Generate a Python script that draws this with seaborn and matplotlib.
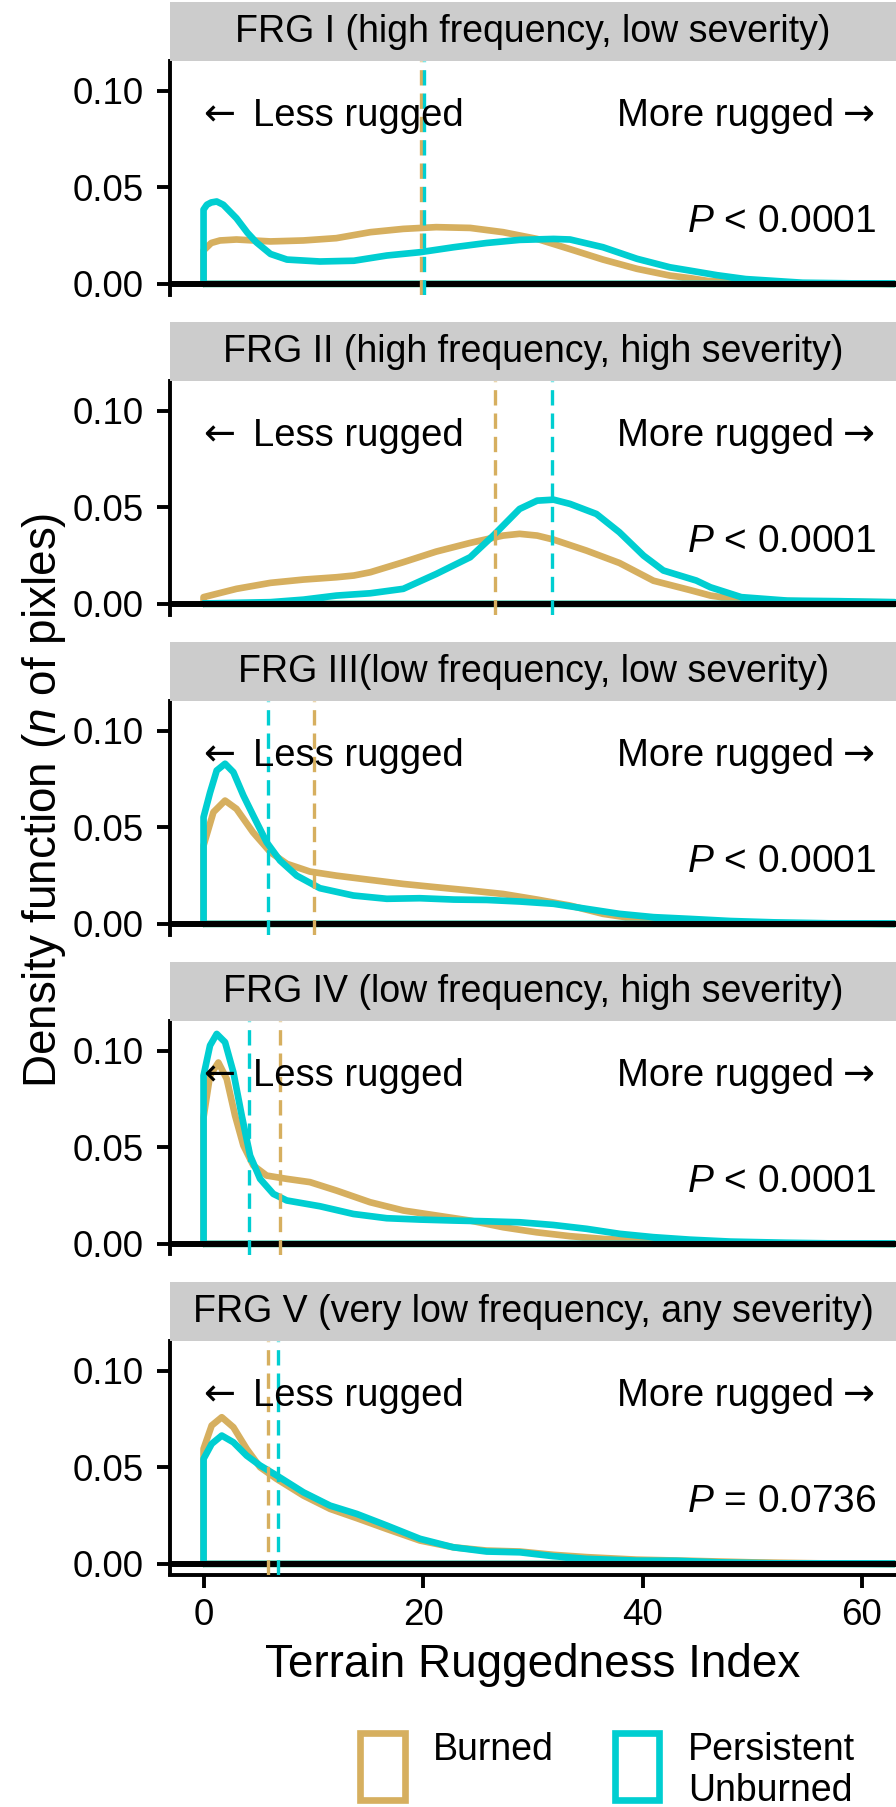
import matplotlib
matplotlib.use("Agg")
import matplotlib.pyplot as plt
from matplotlib.patches import Rectangle
from matplotlib.ticker import FormatStrFormatter
import pandas as pd
import seaborn as sns

# ---- data ----
panel_titles = [
    "FRG I (high frequency, low severity)",
    "FRG II (high frequency, high severity)",
    "FRG III(low frequency, low severity)",
    "FRG IV (low frequency, high severity)",
    "FRG V (very low frequency, any severity)",
]
p_labels = [r"$P$ < 0.0001", r"$P$ < 0.0001", r"$P$ < 0.0001", r"$P$ < 0.0001", r"$P$ = 0.0736"]

burned_median = [19.86, 26.58, 10.04, 7.0, 5.91]
unburned_median = [20.1, 31.77, 5.9, 4.15, 6.8]

burned_x = [
    [0, 0.7, 1.5, 3.0, 6.1, 9.1, 12.1, 15.2, 18.2, 21.2, 24.3, 27.3, 30.4, 33.4, 36.4, 39.5, 42.5, 44.3, 46, 50, 55, 63],
    [0, 3.0, 6.1, 9.1, 12.1, 13.7, 15.2, 18.2, 21.2, 24.3, 27.3, 28.8, 30.4, 31.9, 34.9, 37.9, 41.0, 44.3, 46.2, 49, 55.5, 63],
    [0, 0.9, 1.96, 3.0, 4.5, 6.1, 7.6, 9.7, 12.1, 15.2, 18.2, 21.2, 24.3, 27.3, 30.4, 33.4, 36.4, 39.5, 42.5, 46, 50, 63],
    [0, 0.59, 1.35, 2.11, 2.87, 3.63, 4.54, 5.75, 7.58, 9.7, 12.13, 15.17, 18.21, 21.24, 24.28, 27.32, 30.35, 33.39,
     36.42, 39.46, 42.5, 47, 53, 63],
    [0, 0.74, 1.66, 2.72, 3.93, 5.15, 6.67, 9.10, 11.53, 13.96, 16.69, 19.72, 22.76, 25.80, 28.83, 31.87, 34.91,
     39.46, 44.32, 50, 56, 63],
]
burned_y = [
    [0.0173, 0.0212, 0.0225, 0.023, 0.022, 0.0225, 0.0237, 0.0268, 0.0285, 0.0294, 0.029, 0.0268, 0.0233, 0.018,
     0.0126, 0.0078, 0.0043, 0.003, 0.0015, 0.0005, 0.0002, 0.0],
    [0.0035, 0.0078, 0.0109, 0.0126, 0.0138, 0.0147, 0.0164, 0.0216, 0.0271, 0.0316, 0.0354, 0.0363, 0.0354, 0.0333,
     0.0276, 0.0212, 0.012, 0.0072, 0.0043, 0.002, 0.0012, 0.0008],
    [0.0406, 0.0579, 0.0639, 0.0596, 0.0475, 0.0371, 0.0311, 0.0271, 0.025, 0.0228, 0.0207, 0.019, 0.0173, 0.0155,
     0.0126, 0.0095, 0.0052, 0.0026, 0.0016, 0.0008, 0.0003, 0.0],
    [0.0656, 0.0872, 0.094, 0.0855, 0.0665, 0.051, 0.0406, 0.0354, 0.0337, 0.032, 0.0276, 0.0216, 0.0173, 0.0147,
     0.0121, 0.0086, 0.006, 0.004, 0.0026, 0.0017, 0.0012, 0.0006, 0.0002, 0.0],
    [0.0596, 0.0717, 0.076, 0.0708, 0.0596, 0.0501, 0.044, 0.0354, 0.0285, 0.0237, 0.0181, 0.0121, 0.0086, 0.0069,
     0.0064, 0.0047, 0.0035, 0.0022, 0.0016, 0.0008, 0.0003, 0.0],
]
unburned_x = [
    [0, 0.3, 0.7, 1.2, 1.8, 3.0, 4.0, 4.8, 6.1, 7.6, 10.6, 13.7, 16.7, 19.7, 22.8, 25.8, 28.8, 31.9, 33.4, 36.4, 39.5,
     42.5, 44.3, 46.8, 49.4, 54.6, 63],
    [0, 6.1, 9.1, 12.1, 15.2, 18.2, 21.2, 24.3, 26.4, 28.8, 30.4, 31.9, 33.4, 35.8, 37.9, 40.1, 41.9, 44.9, 46.2, 49,
     53.2, 57.9, 63],
    [0, 0.59, 1.2, 1.96, 2.72, 3.63, 4.54, 5.75, 6.97, 8.49, 10.6, 13.65, 16.7, 19.7, 22.8, 25.8, 28.8, 31.9, 34.9,
     37.9, 41.0, 44.3, 48, 52, 57, 63],
    [0, 0.59, 1.2, 1.96, 2.72, 3.48, 4.24, 5.15, 6.36, 7.58, 10.61, 13.65, 16.69, 19.72, 22.76, 25.8, 28.83, 31.87,
     34.91, 37.94, 40.98, 44.32, 48, 53, 58, 63],
    [0, 0.74, 1.66, 2.72, 3.93, 5.15, 6.67, 9.10, 11.53, 13.96, 16.69, 19.72, 22.76, 25.80, 28.83, 31.87, 34.91,
     39.46, 43.1, 47, 52, 58, 63],
]
unburned_y = [
    [0.0385, 0.041, 0.0422, 0.0427, 0.041, 0.034, 0.0265, 0.0216, 0.0155, 0.0126, 0.0116, 0.012, 0.0147, 0.0164,
     0.019, 0.0212, 0.0228, 0.0233, 0.023, 0.019, 0.013, 0.0086, 0.0069, 0.0045, 0.0025, 0.0006, 0.0],
    [0.0002, 0.0009, 0.0022, 0.0043, 0.0055, 0.0078, 0.0155, 0.0242, 0.0354, 0.0492, 0.0535, 0.054, 0.0518, 0.0466,
     0.0371, 0.025, 0.0173, 0.0121, 0.0086, 0.0035, 0.0017, 0.0014, 0.0009],
    [0.0553, 0.068, 0.0795, 0.083, 0.0786, 0.0665, 0.056, 0.0423, 0.0328, 0.025, 0.0185, 0.0147, 0.013, 0.0133,
     0.0126, 0.0124, 0.0116, 0.0104, 0.0078, 0.0052, 0.0035, 0.0026, 0.0015, 0.0008, 0.0003, 0.0],
    [0.0872, 0.1028, 0.1088, 0.1045, 0.0889, 0.0665, 0.0458, 0.0337, 0.0259, 0.0225, 0.0195, 0.0155, 0.0133, 0.0126,
     0.0121, 0.0117, 0.0112, 0.0098, 0.0078, 0.0052, 0.0035, 0.0022, 0.0012, 0.0006, 0.0002, 0.0],
    [0.0544, 0.0622, 0.0665, 0.063, 0.0561, 0.051, 0.0458, 0.0371, 0.0302, 0.0259, 0.0199, 0.013, 0.0086, 0.0064,
     0.006, 0.004, 0.0026, 0.0017, 0.0016, 0.0008, 0.0003, 0.0001, 0.0],
]

x_ticks = [0, 20, 40, 60]
y_ticks = [0.00, 0.05, 0.10]

TAN = "#D6AF5F"
CYAN = "#00CED1"

# ---- style ----
sns.set_style("ticks")
plt.rcParams["font.family"] = ["Liberation Sans", "DejaVu Sans"]
plt.rcParams["mathtext.fontset"] = "custom"
plt.rcParams["mathtext.rm"] = "Liberation Sans"
plt.rcParams["mathtext.it"] = "Liberation Sans:italic"
for key in ["text.color", "axes.labelcolor", "xtick.color", "ytick.color", "axes.edgecolor"]:
    plt.rcParams[key] = "black"

W, H = 896, 1807


def fx(px):
    return px / W


def fy(py):
    return 1 - py / H


def density_outline(xv, yv):
    # closed outline like geom_density: up from the baseline, along the curve, back along y = 0
    xs = [xv[0]] + list(xv) + [xv[-1], xv[0]]
    ys = [0.0] + list(yv) + [0.0, 0.0]
    return pd.DataFrame({"x": xs, "y": ys})


fig = plt.figure(figsize=(W / 100, H / 100), dpi=100)
left = 170.3
step = 320
txt_size = 27.5

for i in range(5):
    top = 61 + step * i
    bot = 294.5 + step * i
    ax = fig.add_axes([fx(left), fy(bot), 1 - fx(left), (bot - top) / H])

    sns.lineplot(data=density_outline(burned_x[i], burned_y[i]), x="x", y="y", sort=False,
                 estimator=None, color=TAN, lw=4.8, ax=ax, zorder=2, solid_joinstyle="round")
    sns.lineplot(data=density_outline(unburned_x[i], unburned_y[i]), x="x", y="y", sort=False,
                 estimator=None, color=CYAN, lw=4.8, ax=ax, zorder=2.1, solid_joinstyle="round")
    ax.axhline(0, color="black", lw=4.3, zorder=3)
    ax.axvline(burned_median[i], color=TAN, lw=2.4, dashes=(4.6, 2.4), zorder=4)
    ax.axvline(unburned_median[i], color=CYAN, lw=2.4, dashes=(4.6, 2.4), zorder=4.1)

    # direction labels: arrows in DejaVu (long arrow glyphs), words in Liberation Sans
    ax.text(0, 0.0875, "\u2190", ha="left", va="center", fontsize=txt_size,
            family="DejaVu Sans", zorder=5)
    ax.text(4.54, 0.082, "Less rugged", ha="left", va="baseline", fontsize=txt_size, zorder=5)
    ax.text(57.5, 0.082, "More rugged", ha="right", va="baseline", fontsize=txt_size, zorder=5)
    ax.text(58.3, 0.0875, "\u2192", ha="left", va="center", fontsize=txt_size,
            family="DejaVu Sans", zorder=5)
    ax.text(61.3, 0.027, p_labels[i], ha="right", va="baseline", fontsize=28, zorder=5)

    ax.set_xlim(-3.03, 63.1)
    ax.set_ylim(-0.0055, 0.1155)
    ax.set_yticks(y_ticks)
    ax.yaxis.set_major_formatter(FormatStrFormatter("%.2f"))
    ax.tick_params(axis="y", labelsize=26.5, length=9.1, width=2.8, pad=10, color="black",
                   labelcolor="black")
    ax.set_xlabel("")
    ax.set_ylabel("")
    for side in ["top", "right"]:
        ax.spines[side].set_visible(False)
    ax.spines["left"].set_linewidth(2.8)

    if i < 4:
        ax.spines["bottom"].set_visible(False)
        ax.set_xticks([])
    else:
        ax.spines["bottom"].set_linewidth(2.8)
        ax.set_xticks(x_ticks)
        ax.tick_params(axis="x", labelsize=26.5, length=9.1, width=2.8, pad=8, color="black",
                       labelcolor="black")
        ax.set_xlabel("Terrain Ruggedness Index", fontsize=33)
        ax.xaxis.set_label_coords(0.5, -(1665 - bot) / (bot - top))
        ax.xaxis.label.set_va("center")

    # facet strip
    strip = fig.add_axes([fx(left), fy(61 + step * i), 1 - fx(left), 59 / H])
    strip.set_facecolor("#CCCCCC")
    strip.set_xticks([])
    strip.set_yticks([])
    for s in strip.spines.values():
        s.set_visible(False)
    strip.text(0.5, 0.327, panel_titles[i], ha="center", va="baseline", fontsize=27,
               transform=strip.transAxes)

fig.text(fx(44), fy(800), "Density function ($n$ of pixles)", rotation=90,
         ha="center", va="center", fontsize=33)

# legend
fig.add_artist(Rectangle((fx(360), fy(1800)), 45 / W, 67.4 / H, transform=fig.transFigure,
                         fill=False, ec=TAN, lw=4.8))
fig.add_artist(Rectangle((fx(615), fy(1800)), 44 / W, 67.4 / H, transform=fig.transFigure,
                         fill=False, ec=CYAN, lw=4.8))
fig.text(fx(433), fy(1760), "Burned", ha="left", va="baseline", fontsize=27)
fig.text(fx(688), fy(1760), "Persistent", ha="left", va="baseline", fontsize=27)
fig.text(fx(688), fy(1801), "Unburned", ha="left", va="baseline", fontsize=27)

fig.savefig("out.png", dpi=100, facecolor="white")
